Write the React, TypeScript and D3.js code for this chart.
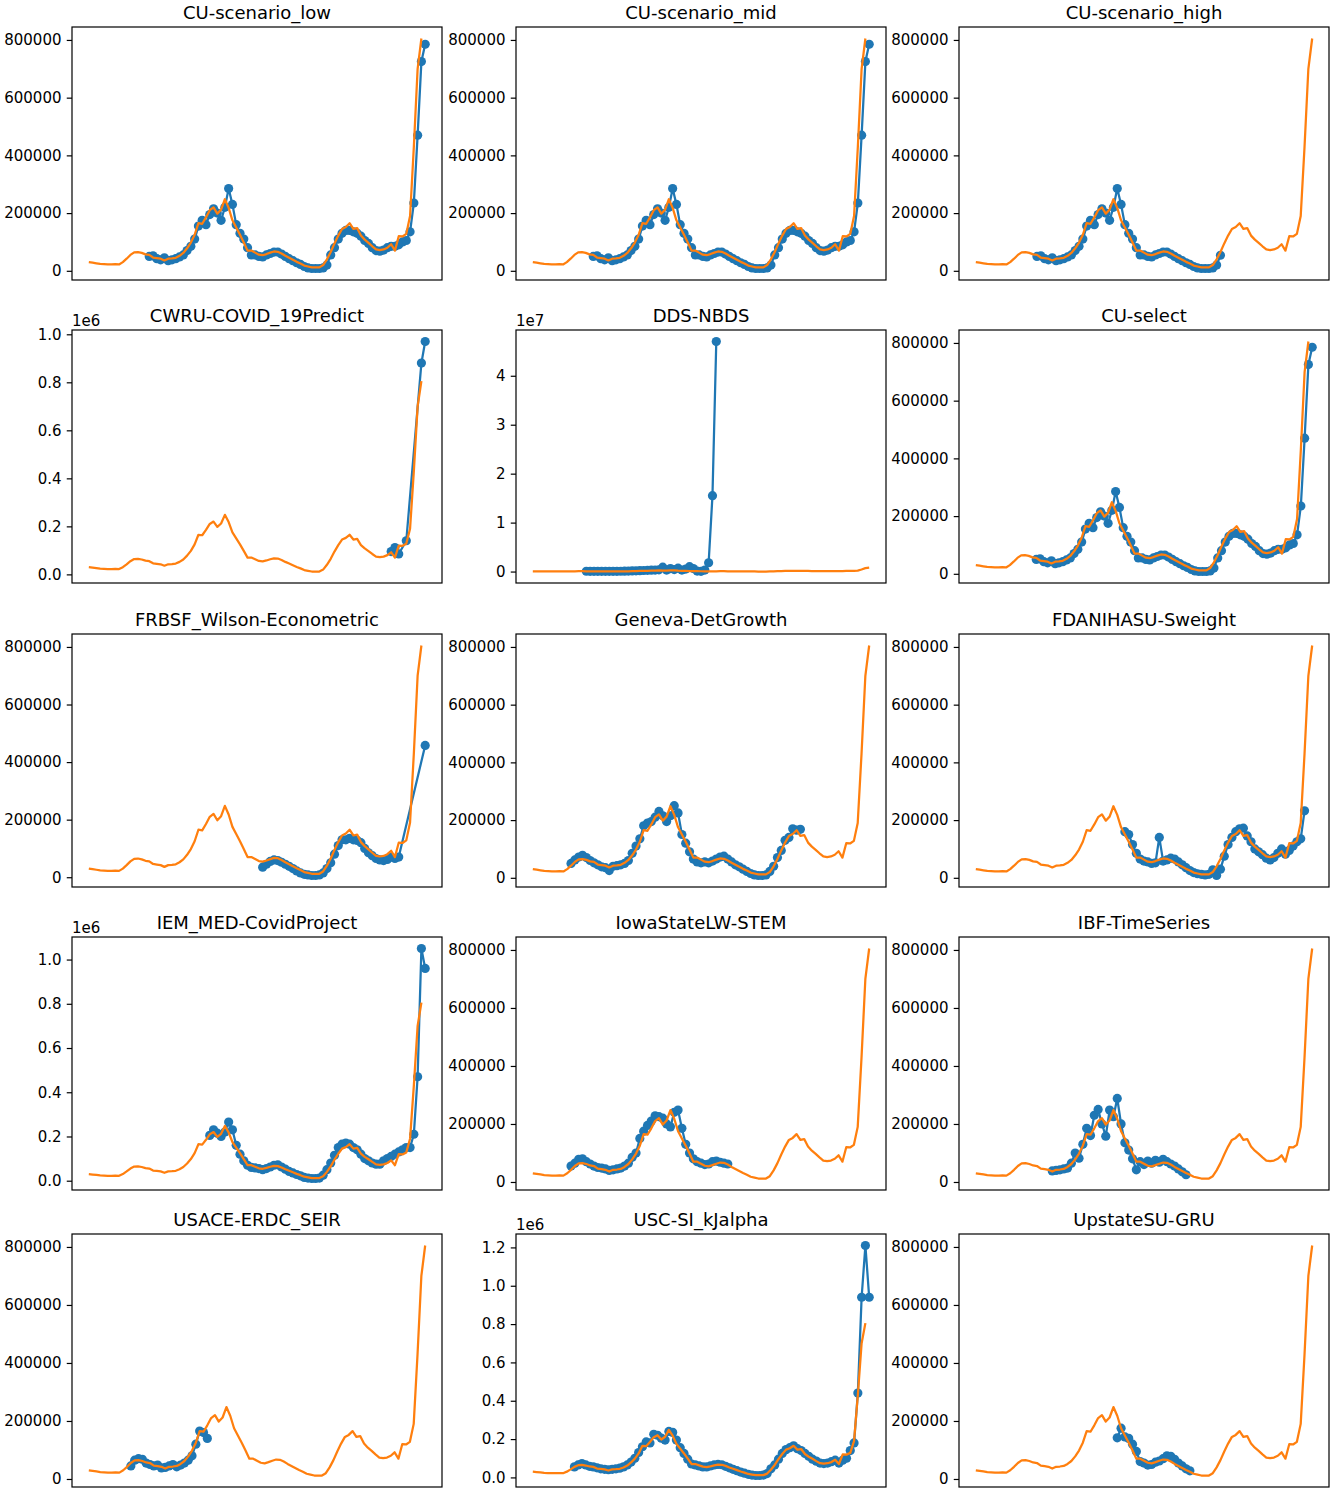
import { useEffect, useRef } from 'react';
import * as d3 from 'd3';

// weekly reported cases (orange), one value per week
const reportedCases = [
  30000, 28000, 26000, 24000, 23000, 22000, 22000, 23000, 22000, 30000,
  42000, 55000, 64000, 65000, 62000, 57000, 55000, 46000, 44000, 42000,
  36000, 42000, 43000, 45000, 52000, 62000, 78000, 98000, 125000, 165000,
  163000, 185000, 210000, 220000, 198000, 212000, 248000, 218000, 175000, 150000,
  125000, 98000, 70000, 70000, 63000, 56000, 54000, 58000, 63000, 67000,
  66000, 60000, 52000, 45000, 38000, 31000, 25000, 18000, 15000, 12000,
  12000, 12000, 20000, 40000, 65000, 95000, 122000, 145000, 152000, 165000,
  145000, 148000, 122000, 108000, 97000, 85000, 74000, 72000, 74000, 80000,
  92000, 70000, 120000, 119000, 128000, 190000, 430000, 700000, 805000,
];

const modelTitles = [
  'CU-scenario_low', 'CU-scenario_mid', 'CU-scenario_high',
  'CWRU-COVID_19Predict', 'DDS-NBDS', 'CU-select',
  'FRBSF_Wilson-Econometric', 'Geneva-DetGrowth', 'FDANIHASU-Sweight',
  'IEM_MED-CovidProject', 'IowaStateLW-STEM', 'IBF-TimeSeries',
  'USACE-ERDC_SEIR', 'USC-SI_kJalpha', 'UpstateSU-GRU',
];

// first week index of each model's forecasts
const forecastStartWeeks = [16, 16, 16, 80, 14, 16, 46, 10, 39, 32, 10, 20, 11, 11, 37];

// power of ten shown above the y axis (0 = none)
const offsetExponents = [0, 0, 0, 6, 7, 0, 0, 0, 0, 6, 0, 0, 0, 6, 0];

const cuScenarioLow = [
  50000, 52000, 42000, 38000, 45000, 35000, 38000, 42000, 48000, 55000,
  70000, 85000, 110000, 155000, 175000, 160000, 195000, 215000, 200000, 175000,
  220000, 285000, 230000, 160000, 130000, 110000, 80000, 55000, 55000, 50000,
  48000, 55000, 60000, 65000, 65000, 58000, 50000, 42000, 35000, 28000,
  22000, 15000, 10000, 8000, 8000, 8000, 10000, 20000, 55000, 80000,
  110000, 130000, 140000, 140000, 135000, 130000, 120000, 105000, 95000, 80000,
  70000, 68000, 72000, 80000, 85000, 85000, 90000, 100000, 105000, 135000,
  235000, 470000, 725000, 785000,
];

const cuScenarioMid = [
  50000, 52000, 42000, 38000, 45000, 35000, 38000, 42000, 48000, 55000,
  70000, 85000, 110000, 155000, 175000, 160000, 195000, 215000, 200000, 175000,
  220000, 285000, 230000, 160000, 130000, 110000, 80000, 55000, 55000, 50000,
  48000, 55000, 60000, 65000, 65000, 58000, 50000, 42000, 35000, 28000,
  22000, 15000, 10000, 8000, 8000, 8000, 10000, 20000, 55000, 80000,
  110000, 130000, 140000, 140000, 135000, 130000, 120000, 105000, 95000, 80000,
  70000, 68000, 72000, 80000, 85000, 85000, 90000, 100000, 105000, 135000,
  235000, 470000, 725000, 785000,
];

const cuScenarioHigh = [
  50000, 52000, 42000, 38000, 45000, 35000, 38000, 42000, 48000, 55000,
  70000, 85000, 110000, 155000, 175000, 160000, 195000, 215000, 200000, 175000,
  220000, 285000, 230000, 160000, 130000, 110000, 80000, 55000, 55000, 50000,
  48000, 55000, 60000, 65000, 65000, 58000, 50000, 42000, 35000, 28000,
  22000, 15000, 10000, 8000, 8000, 8000, 10000, 20000, 54000,
];

const cwruPredict = [95000, 112000, 85000, null, 140000, null, null, null, 880000, 970000];

const ddsNbds = [
  60000, 55000, 50000, 45000, 45000, 40000, 40000, 45000, 50000, 60000,
  70000, 90000, 120000, 150000, 180000, 220000, 250000, 280000, 300000, 350000,
  900000, 300000, 600000, 400000, 700000, 300000, 500000, 1000000, 600000, 100000,
  50000, 300000, 1800000, 15500000, 47000000,
];

const cuSelect = [
  50000, 52000, 42000, 38000, 45000, 35000, 38000, 42000, 48000, 55000,
  70000, 85000, 110000, 155000, 175000, 160000, 195000, 215000, 200000, 175000,
  220000, 285000, 230000, 160000, 130000, 110000, 80000, 55000, 55000, 50000,
  48000, 55000, 60000, 65000, 65000, 58000, 50000, 42000, 35000, 28000,
  22000, 15000, 10000, 8000, 8000, 8000, 10000, 20000, 55000, 80000,
  110000, 130000, 140000, 140000, 135000, 130000, 120000, 105000, 95000, 80000,
  70000, 68000, 72000, 80000, 85000, 85000, 90000, 100000, 105000, 135000,
  235000, 470000, 725000, 785000,
];

const frbsfWilson = [
  35000, 45000, 55000, 60000, 58000, 52000, 45000, 38000, 30000, 22000,
  15000, 10000, 8000, 6000, 6000, 8000, 15000, 30000, 50000, 80000,
  110000, 130000, 130000, 135000, 130000, 128000, 120000, 100000, 85000, 75000,
  65000, 60000, 58000, 62000, 70000, 65000, 70000, null, null, null,
  null, null, null, 458000,
];

const genevaDetGrowth = [
  50000, 62000, 72000, 78000, 70000, 60000, 52000, 45000, 38000, 35000,
  25000, 40000, 42000, 45000, 50000, 60000, 85000, 110000, 135000, 180000,
  190000, 195000, 210000, 230000, 215000, 195000, 215000, 250000, 225000, 150000,
  120000, 90000, 65000, 55000, 52000, 55000, 52000, 58000, 65000, 72000,
  75000, 65000, 55000, 45000, 38000, 30000, 22000, 15000, 10000, 8000,
  8000, 10000, 22000, 40000, 70000, 95000, 130000, 140000, 170000, 165000,
  168000,
];

const fdaNihasu = [
  160000, 150000, 115000, 85000, 65000, 58000, 55000, 50000, 52000, 140000,
  58000, 62000, 68000, 65000, 55000, 45000, 35000, 25000, 18000, 14000,
  12000, 10000, 12000, 28000, 8000, 30000, 75000, 115000, 140000, 160000,
  170000, 172000, 145000, 125000, 100000, 90000, 80000, 68000, 62000, 70000,
  85000, 100000, 82000, 95000, 110000, 125000, 135000, 232000,
];

const iemMed = [
  205000, 230000, 215000, 200000, 220000, 265000, 230000, 160000, 120000, 90000,
  70000, 60000, 58000, 55000, 50000, 55000, 62000, 70000, 72000, 62000,
  52000, 42000, 35000, 28000, 22000, 15000, 12000, 10000, 10000, 12000,
  25000, 50000, 80000, 115000, 150000, 165000, 170000, 165000, 150000, 140000,
  120000, 100000, 90000, 80000, 75000, 75000, 90000, 100000, 110000, 120000,
  130000, 140000, 150000, 150000, 210000, 470000, 1050000, 960000,
];

const iowaStateStem = [
  55000, 65000, 78000, 80000, 70000, 62000, 55000, 50000, 48000, 45000,
  40000, 42000, 45000, 48000, 55000, 65000, 85000, 100000, 150000, 175000,
  195000, 210000, 228000, 225000, 220000, 200000, 190000, 240000, 248000, 185000,
  130000, 100000, 80000, 70000, 65000, 60000, 62000, 70000, 72000, 68000,
  65000, 62000,
];

const ibfTimeSeries = [
  38000, 40000, 42000, 45000, 48000, 65000, 100000, 82000, 130000, 185000,
  160000, 230000, 250000, 200000, 158000, 248000, 225000, 288000, 200000, 135000,
  110000, 80000, 42000, 70000, 60000, 72000, 65000, 75000, 68000, 78000,
  70000, 62000, 55000, 45000, 35000, 25000,
];

const usaceSeir = [
  45000, 65000, 70000, 68000, 55000, 50000, 45000, 48000, 38000, 40000,
  45000, 50000, 42000, 48000, 55000, 65000, 80000, 120000, 165000, 160000,
  140000,
];

const uscKjalpha = [
  55000, 65000, 72000, 65000, 58000, 55000, 50000, 45000, 42000, 40000,
  42000, 45000, 48000, 55000, 65000, 80000, 100000, 130000, 160000, 185000,
  180000, 225000, 220000, 205000, 195000, 240000, 235000, 195000, 155000, 125000,
  95000, 70000, 65000, 60000, 55000, 55000, 60000, 65000, 68000, 66000,
  58000, 50000, 42000, 35000, 28000, 22000, 16000, 12000, 10000, 10000,
  12000, 20000, 45000, 65000, 95000, 125000, 145000, 155000, 165000, 150000,
  140000, 125000, 110000, 95000, 85000, 75000, 72000, 75000, 82000, 90000,
  75000, 90000, 100000, 140000, 180000, 440000, 940000, 1210000, 940000,
];

const upstateGru = [
  142000, 175000, 145000, 140000, 120000, 95000, 60000, 55000, 48000, 50000,
  58000, 62000, 70000, 80000, 78000, 68000, 55000, 45000, 35000, 28000,
];

const forecastValues: (number | null)[][] = [
  cuScenarioLow, cuScenarioMid, cuScenarioHigh,
  cwruPredict, ddsNbds, cuSelect,
  frbsfWilson, genevaDetGrowth, fdaNihasu,
  iemMed, iowaStateStem, ibfTimeSeries,
  usaceSeir, uscKjalpha, upstateGru,
];

const WIDTH = 1335;
const HEIGHT = 1493;
const colLefts = [72, 516, 959];
const rowTops = [27, 330, 634, 937, 1234];
const panelW = 370;
const panelH = 253;
const FONT = 'DejaVu Sans, sans-serif';
const BLUE = '#1f77b4';
const ORANGE = '#ff7f0e';

interface Pt { w: number; v: number }

export default function App() {
  const svgRef = useRef<SVGSVGElement>(null);

  useEffect(() => {
    if (!svgRef.current) return;
    const svg = d3.select(svgRef.current);
    svg.selectAll('*').remove();

    svg.append('rect').attr('width', WIDTH).attr('height', HEIGHT).attr('fill', '#fff');

    modelTitles.forEach((title, k) => {
      const left = colLefts[k % 3];
      const top = rowTops[Math.floor(k / 3)];
      const exp = offsetExponents[k];

      const actual: Pt[] = reportedCases.map((v, w) => ({ w, v }));
      const forecast: Pt[] = forecastValues[k]
        .map((v, j) => ({ w: forecastStartWeeks[k] + j, v }))
        .filter((d): d is Pt => d.v != null);

      const xMax = Math.max(actual.length - 1, d3.max(forecast, d => d.w) ?? 0);
      const xPad = 0.05 * xMax;
      const x = d3.scaleLinear().domain([-xPad, xMax + xPad]).range([left, left + panelW]);

      const vals = [...actual, ...forecast].map(d => d.v);
      const lo = d3.min(vals) as number;
      const hi = d3.max(vals) as number;
      const yPad = 0.05 * (hi - lo);
      const y = d3.scaleLinear().domain([lo - yPad, hi + yPad]).range([top + panelH, top]);

      const g = svg.append('g');

      const line = d3.line<Pt>().x(d => x(d.w)).y(d => y(d.v));

      // forecasts
      g.append('path')
        .datum(forecast)
        .attr('fill', 'none')
        .attr('stroke', BLUE)
        .attr('stroke-width', 2.25)
        .attr('stroke-linejoin', 'round')
        .attr('d', line);

      g.selectAll('.dot')
        .data(forecast)
        .enter().append('circle')
        .attr('cx', d => x(d.w))
        .attr('cy', d => y(d.v))
        .attr('r', 4.6)
        .attr('fill', BLUE);

      // reported
      g.append('path')
        .datum(actual)
        .attr('fill', 'none')
        .attr('stroke', ORANGE)
        .attr('stroke-width', 2.25)
        .attr('stroke-linejoin', 'round')
        .attr('d', line);

      // y axis
      const fmt = exp === 0
        ? (v: d3.NumberValue) => d3.format('d')(+v)
        : exp === 6
          ? (v: d3.NumberValue) => (+v / 1e6).toFixed(1)
          : (v: d3.NumberValue) => String(Math.round(+v / 10 ** exp));

      const axis = g.append('g')
        .attr('transform', `translate(${left},0)`)
        .call(d3.axisLeft(y).ticks(5).tickSize(5.25).tickPadding(5.25).tickFormat(fmt));
      axis.select('.domain').remove();
      axis.selectAll('line').attr('stroke', '#000').attr('stroke-width', 1.2);
      axis.selectAll('text')
        .attr('fill', '#000')
        .style('font-size', '15px')
        .style('font-family', FONT);

      // frame
      g.append('rect')
        .attr('x', left)
        .attr('y', top)
        .attr('width', panelW)
        .attr('height', panelH)
        .attr('fill', 'none')
        .attr('stroke', '#000')
        .attr('stroke-width', 1.2);

      g.append('text')
        .attr('x', left + panelW / 2)
        .attr('y', top - 8.5)
        .attr('text-anchor', 'middle')
        .style('font-size', '18px')
        .style('font-family', FONT)
        .text(title);

      if (exp !== 0) {
        g.append('text')
          .attr('x', left)
          .attr('y', top - 4.5)
          .style('font-size', '15px')
          .style('font-family', FONT)
          .text(`1e${exp}`);
      }
    });
  }, []);

  return (
    <svg
      ref={svgRef}
      width={WIDTH}
      height={HEIGHT}
      style={{ position: 'absolute', left: 0, top: 0, display: 'block' }}
    />
  );
}
